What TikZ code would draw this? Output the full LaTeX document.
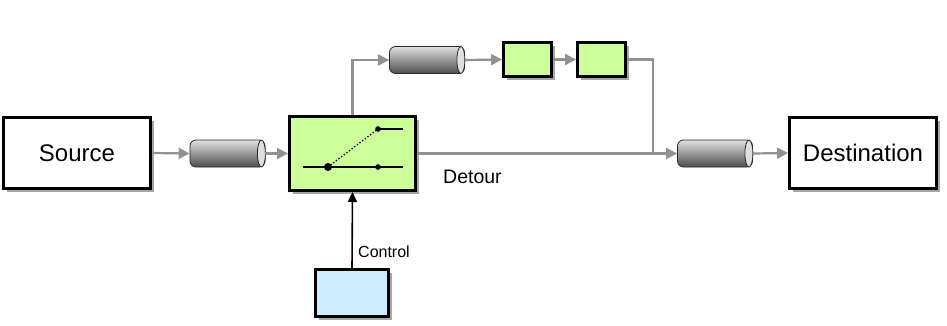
\documentclass[tikz,border=0pt]{standalone}
\usepackage{fontspec}
\setmainfont{Liberation Sans}
\usetikzlibrary{arrows.meta,shadows}

\definecolor{verdech}{RGB}{204,255,153}
\definecolor{azzch}{RGB}{204,236,255}
\definecolor{grigiofl}{RGB}{145,145,145}

\begin{document}
\begin{tikzpicture}[
  x=1pt, y=-1pt,
  scatola/.style={draw=black, line width=3pt, inner sep=0pt,
    drop shadow={shadow xshift=3.5pt, shadow yshift=-3.5pt, fill=black!50, opacity=0.7}},
  tubo/.style={draw=black!85, line width=0.8pt, rounded corners=6pt, inner sep=0pt,
    top color=black!12, bottom color=black!70, minimum width=75pt, minimum height=27pt},
  flusso/.style={draw=grigiofl, line width=2.2pt, -{Triangle[length=11pt,width=11pt]}},
  linea/.style={draw=grigiofl, line width=2.2pt},
  comando/.style={draw=black, line width=1.6pt, -{Triangle[length=10pt,width=9pt]}},
  interr/.style={draw=black, line width=1.3pt}
]
\useasboundingbox (0,0) rectangle (947,326);

%--------------------------------------------------------------
% Blocchi principali
%--------------------------------------------------------------
\node[scatola, fill=white, minimum width=147pt, minimum height=71pt,
      font=\fontsize{24}{28}\selectfont] (sorg) at (77,153) {Source};
\node[scatola, fill=white, minimum width=147pt, minimum height=71pt,
      font=\fontsize{24}{28}\selectfont] (dest) at (863,153) {Destination};
\node[scatola, fill=verdech, minimum width=126pt, minimum height=74pt] (scambio) at (352.5,153.5) {};
\node[scatola, fill=verdech, minimum width=48pt, minimum height=34pt] (verdeA) at (527.5,59.5) {};
\node[scatola, fill=verdech, minimum width=48pt, minimum height=34pt] (verdeB) at (601.5,59.5) {};
\node[scatola, fill=azzch, minimum width=73pt, minimum height=47pt] (ctrl) at (352,293) {};

%--------------------------------------------------------------
% Canali (tubi)
%--------------------------------------------------------------
\node[tubo] (tuboA) at (227.5,153.5) {};
\node[tubo] (tuboB) at (427,60) {};
\node[tubo] (tuboC) at (715,153.5) {};
\foreach \t in {tuboA,tuboB,tuboC}
  \draw[draw=black!85, line width=0.8pt, fill=black!12]
    ([xshift=-4pt]\t.east) ellipse [x radius=4pt, y radius=13.5pt];

%--------------------------------------------------------------
% Interruttore dentro lo scambio
%--------------------------------------------------------------
\draw[interr] (303,167) -- (403,167);
\draw[interr] (378,129) -- (403,129);
\draw[interr, dotted] (328,167) -- (378,129);
\fill (328,167) circle [radius=4pt];
\fill (378,167) circle [radius=2.8pt];
\fill (378,129) circle [radius=2.8pt];

%--------------------------------------------------------------
% Collegamenti
%--------------------------------------------------------------
\coordinate (unione) at (653,153.5);
\draw[flusso] (sorg.east) -- (tuboA.west);
\draw[flusso] (tuboA.east) -- (scambio.west);
\draw[flusso] (scambio.north) |- (tuboB.west);
\draw[flusso] (tuboB.east) -- (verdeA.west);
\draw[flusso] (verdeA.east) -- (verdeB.west);
\draw[linea] (verdeB.east) -| (unione);
\draw[flusso] (scambio.east) -- (tuboC.west);
\draw[flusso] (tuboC.east) -- (dest.west);
\draw[comando] (ctrl.north) -- (scambio.south);

%--------------------------------------------------------------
% Etichette
%--------------------------------------------------------------
\node[anchor=base west, inner sep=0pt, font=\fontsize{19.5}{23}\selectfont] (etdet) at (443,183) {Detour};
\node[anchor=base west, inner sep=0pt, font=\fontsize{16}{19}\selectfont] (etctrl) at (358,257) {Control};

\end{tikzpicture}
\end{document}
